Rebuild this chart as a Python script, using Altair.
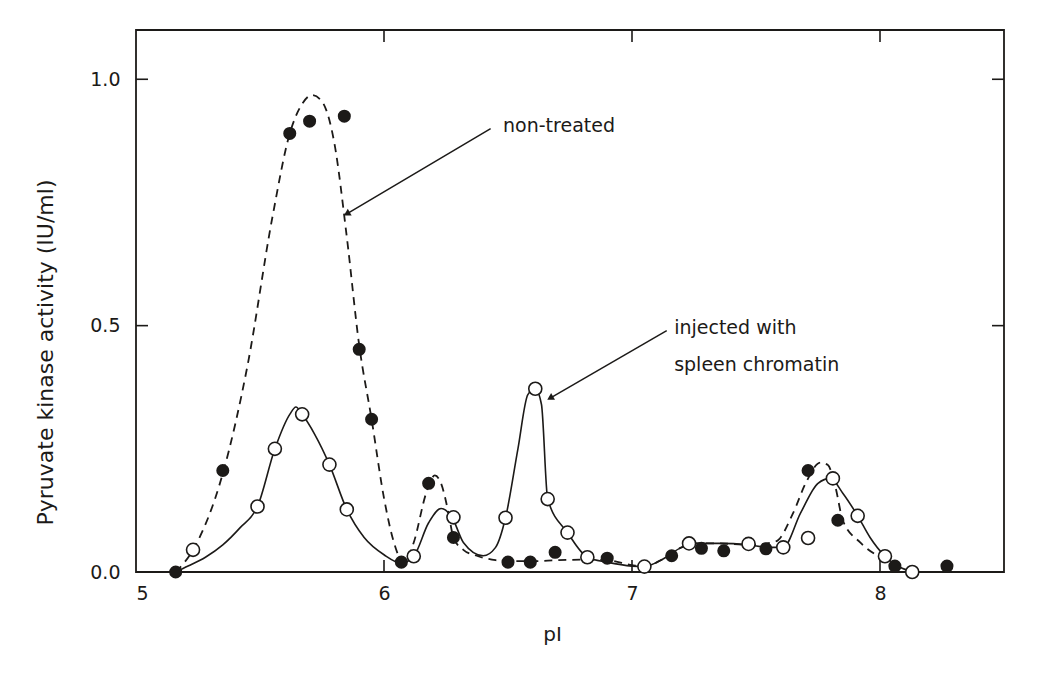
import altair as alt
import pandas as pd

# ---- data ----
# non-treated (filled circles)
nt_x = [5.16, 5.35, 5.62, 5.70, 5.84, 5.90, 5.95, 6.07, 6.18, 6.28, 6.50, 6.59, 6.69, 6.90,
        7.16, 7.28, 7.37, 7.54, 7.71, 7.83, 8.06, 8.27]
nt_y = [0.0, 0.206, 0.89, 0.915, 0.925, 0.452, 0.31, 0.02, 0.18, 0.07, 0.02, 0.02, 0.04, 0.028,
        0.033, 0.048, 0.043, 0.047, 0.206, 0.105, 0.012, 0.012]

# injected with spleen chromatin (open circles)
inj_x = [5.23, 5.49, 5.56, 5.67, 5.78, 5.85, 6.12, 6.28, 6.49, 6.61, 6.66, 6.74, 6.82, 7.05,
         7.23, 7.47, 7.61, 7.71, 7.81, 7.91, 8.02, 8.13]
inj_y = [0.045, 0.133, 0.25, 0.32, 0.218, 0.127, 0.032, 0.111, 0.11, 0.372, 0.148, 0.08, 0.03,
         0.011, 0.058, 0.057, 0.05, 0.069, 0.19, 0.114, 0.032, 0.0]

# hand-drawn curve through the non-treated points (dashed)
nt_curve_x = [5.16, 5.23, 5.35, 5.45, 5.55, 5.62, 5.67, 5.71, 5.75, 5.80, 5.85, 5.90, 5.95,
              6.00, 6.04, 6.08, 6.12, 6.17, 6.205, 6.23, 6.26, 6.28, 6.32, 6.38, 6.45, 6.50,
              6.60, 6.70, 6.80, 6.90, 7.00, 7.05, 7.12, 7.20, 7.25, 7.35, 7.47, 7.58, 7.65,
              7.70, 7.76, 7.79, 7.82, 7.85, 7.92, 8.00]
nt_curve_y = [0.0, 0.045, 0.2, 0.42, 0.72, 0.89, 0.95, 0.968, 0.955, 0.87, 0.68, 0.46, 0.31,
              0.15, 0.06, 0.018, 0.06, 0.16, 0.196, 0.18, 0.12, 0.07, 0.045, 0.032, 0.024,
              0.022, 0.022, 0.024, 0.025, 0.024, 0.014, 0.011, 0.025, 0.05, 0.058, 0.058,
              0.055, 0.062, 0.12, 0.18, 0.222, 0.217, 0.173, 0.105, 0.06, 0.03]

# hand-drawn curve through the injected points (solid)
inj_curve_x = [5.16, 5.21, 5.28, 5.35, 5.42, 5.49, 5.56, 5.62, 5.645, 5.67, 5.72, 5.78, 5.85,
               5.92, 6.00, 6.07, 6.12, 6.18, 6.23, 6.26, 6.28, 6.32, 6.40, 6.45, 6.49, 6.54,
               6.58, 6.61, 6.635, 6.66, 6.74, 6.82, 6.90, 7.00, 7.05, 7.12, 7.20, 7.25, 7.35,
               7.47, 7.55, 7.61, 7.68, 7.75, 7.80, 7.85, 7.91, 7.96, 8.02, 8.08, 8.13]
inj_curve_y = [0.0, 0.012, 0.03, 0.055, 0.09, 0.133, 0.25, 0.32, 0.335, 0.32, 0.28, 0.218,
               0.127, 0.07, 0.035, 0.018, 0.032, 0.1, 0.129, 0.12, 0.105, 0.06, 0.033, 0.05,
               0.11, 0.25, 0.36, 0.372, 0.34, 0.148, 0.08, 0.03, 0.02, 0.012, 0.011, 0.025,
               0.05, 0.058, 0.058, 0.055, 0.05, 0.05, 0.12, 0.18, 0.19, 0.16, 0.114, 0.07,
               0.032, 0.01, 0.0]

x_ticks = [5, 6, 7, 8]
y_ticks = [0.0, 0.5, 1.0]
inner_x_ticks = [6, 7, 8]
inner_y_ticks = [0.5, 1.0]

# annotations
ann_text = ["non-treated", "injected with", "spleen chromatin"]
ann_x = [6.48, 7.17, 7.17]
ann_y = [0.905, 0.496, 0.42]
arrow_x1 = [6.43, 7.14]
arrow_y1 = [0.90, 0.49]
arrow_x2 = [5.85, 6.67]
arrow_y2 = [0.727, 0.353]

W, H = 868, 542
FONT = "DejaVu Sans"
INK = "#1c1a18"

xs = alt.Scale(domain=[5, 8.5], nice=False, zero=False)
ys = alt.Scale(domain=[0, 1.1], nice=False)

df_nt = pd.DataFrame({"x": nt_x, "y": nt_y})
df_inj = pd.DataFrame({"x": inj_x, "y": inj_y})
df_ntc = pd.DataFrame({"x": nt_curve_x, "y": nt_curve_y})
df_injc = pd.DataFrame({"x": inj_curve_x, "y": inj_curve_y})

base_x = alt.X("x:Q", scale=xs, title="pI",
               axis=alt.Axis(values=x_ticks, format="d", domain=False, ticks=False,
                             grid=False, labelFontSize=19, labelPadding=12,
                             labelFont=FONT, labelColor=INK, titleFont=FONT,
                             titleFontSize=20, titleFontWeight="normal", titleColor=INK,
                             titleX=416, titleY=62, titleBaseline="middle"))
base_y = alt.Y("y:Q", scale=ys, title="Pyruvate kinase activity (IU/ml)",
               axis=alt.Axis(values=y_ticks, format=".1f", domain=False, ticks=False,
                             grid=False, labelFontSize=19, labelPadding=16,
                             labelFont=FONT, labelColor=INK, titleFont=FONT,
                             titleFontSize=22, titleFontWeight="normal", titleColor=INK,
                             titleAngle=-90, titleX=-91, titleY=322,
                             titleAlign="center", titleBaseline="middle"))

dashed = alt.Chart(df_ntc).mark_line(interpolate="monotone", color=INK, strokeWidth=1.8,
                                      strokeDash=[8, 6]).encode(x=base_x, y=base_y)
solid = alt.Chart(df_injc).mark_line(interpolate="monotone", color=INK, strokeWidth=1.6
                                     ).encode(x="x:Q", y="y:Q")
filled = alt.Chart(df_nt).mark_point(shape="circle", filled=True, color=INK, size=170,
                                     opacity=1).encode(x="x:Q", y="y:Q")
hollow = alt.Chart(df_inj).mark_point(shape="circle", filled=True, fill="white", stroke=INK,
                                      strokeWidth=1.6, size=170, opacity=1
                                      ).encode(x="x:Q", y="y:Q")

df_xt = pd.DataFrame({"x": inner_x_ticks})
df_yt = pd.DataFrame({"y": inner_y_ticks})
tick_b = alt.Chart(df_xt).mark_rule(color=INK, strokeWidth=1.6).encode(
    x="x:Q", y=alt.value(H), y2=alt.value(H - 12))
tick_t = alt.Chart(df_xt).mark_rule(color=INK, strokeWidth=1.6).encode(
    x="x:Q", y=alt.value(0), y2=alt.value(12))
tick_l = alt.Chart(df_yt).mark_rule(color=INK, strokeWidth=1.6).encode(
    y="y:Q", x=alt.value(0), x2=alt.value(12))
tick_r = alt.Chart(df_yt).mark_rule(color=INK, strokeWidth=1.6).encode(
    y="y:Q", x=alt.value(W), x2=alt.value(W - 12))

df_ann = pd.DataFrame({"x": ann_x, "y": ann_y, "t": ann_text})
texts = alt.Chart(df_ann).mark_text(align="left", baseline="middle", font=FONT, fontSize=19,
                                    color=INK).encode(x="x:Q", y="y:Q", text="t:N")

df_arr = pd.DataFrame({"x": arrow_x1, "y": arrow_y1, "x2": arrow_x2, "y2": arrow_y2})
arrows = alt.Chart(df_arr).mark_rule(color=INK, strokeWidth=1.5).encode(
    x="x:Q", y="y:Q", x2="x2:Q", y2="y2:Q")
heads = alt.Chart(df_arr).mark_point(shape="triangle-up", filled=True, color=INK, size=60,
                                     opacity=1, angle=240).encode(x="x2:Q", y="y2:Q")

chart = alt.layer(dashed, solid, tick_b, tick_t, tick_l, tick_r, arrows, heads,
                  filled, hollow, texts).properties(
    width=W, height=H,
    autosize=alt.AutoSizeParams(type="none"),
    padding={"left": 128, "top": 22, "right": 34, "bottom": 93},
    background="white",
).configure_view(stroke=INK, strokeWidth=1.8)

chart.save("out.html", embed_options={"renderer": "svg", "actions": False})
